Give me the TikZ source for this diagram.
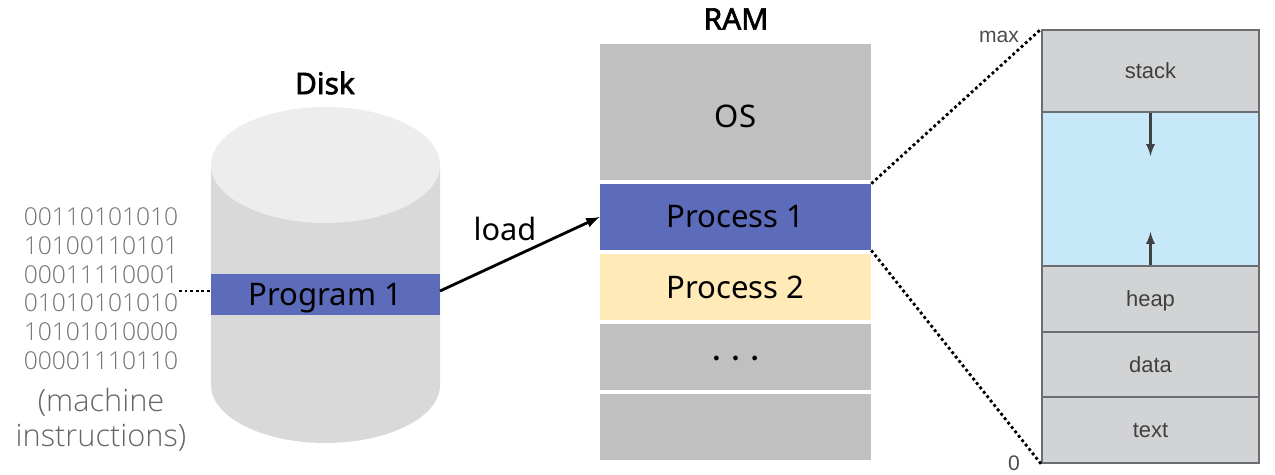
\documentclass[tikz,border=0pt]{standalone}
\usepackage{fontspec}
\setmainfont{Noto Sans}
\newfontfamily\titlefont[FakeBold=2]{Noto Sans}
\newfontfamily\stackfont{Liberation Sans}
\newfontfamily\bitsfont{Open Sans Light}
\definecolor{bandblue}{HTML}{5D6BBB}
\definecolor{ramgray}{HTML}{C0C0C0}
\definecolor{loadyellow}{HTML}{FFEAB8}
\definecolor{diskgray}{HTML}{D9D9D9}
\definecolor{disktop}{HTML}{EDEDED}
\definecolor{stackgray}{HTML}{D1D3D4}
\definecolor{freeblue}{HTML}{C7E8F9}
\definecolor{stackline}{HTML}{6B6D70}
\tikzset{
ramcell/.style={fill=#1, minimum width=5.42cm, minimum height=1.32cm, inner sep=0pt, text height=12.5pt, text depth=0pt, font=\fontsize{17.7}{20}\selectfont},
stackcell/.style={draw=stackline, line width=1.1pt, fill=#1, minimum width=4.34cm, inner sep=0pt, text height=9pt, text depth=0pt, font=\stackfont\fontsize{12.5}{15}\selectfont, text=black!75},
title/.style={font=\titlefont\fontsize{17}{20}\selectfont},
bits/.style={text=black!55, inner sep=0pt, font=\bitsfont\fontsize{14}{16}\selectfont},
words/.style={text=black!60, inner sep=0pt, font=\bitsfont\fontsize{17.5}{20}\selectfont},
dotline/.style={line width=1.6pt, dash pattern=on 1.6pt off 1.6pt},
}
\begin{document}
\begin{tikzpicture}[x=0.02cm, y=-0.02cm]
\useasboundingbox (0,0) rectangle (1275,475);
% disk
\fill[diskgray] (211,165) -- (211,385) arc[start angle=180, end angle=0, x radius=114.5, y radius=58] -- (440,165) -- cycle;
\fill[disktop] (325.5,165) ellipse[x radius=114.5, y radius=58];
\node[title] (disk) at (325,83) {Disk};
\node[ramcell=bandblue, minimum width=4.58cm, minimum height=0.82cm] (program) at (325.5,294.5) {Program 1};
% machine code
\node[bits] (bits1) at (101,217) {00110101010};
\node[bits] (bits2) at (101,246) {10100110101};
\node[bits] (bits3) at (101,275) {00011110001};
\node[bits] (bits4) at (101,303) {01010101010};
\node[bits] (bits5) at (101,332) {10101010000};
\node[bits] (bits6) at (101,361) {00001110110};
\node[words] (machine) at (101,402) {(machine};
\node[words] (instr) at (101,438) {instructions)};
\coordinate (bitsend) at (179,291);
\coordinate (bandleft) at (211,291);
\path[draw,dotline] (bitsend) -- (bandleft);
% ram
\node[title] (ram) at (736,19) {RAM};
\node[ramcell=ramgray, minimum height=2.72cm, text height=17.5pt] (os) at (735.5,112) {OS};
\node[ramcell=bandblue] (p1) at (735.5,217) {Process 1};
\node[ramcell=loadyellow, text height=13.6pt] (p2) at (735.5,287) {Process 2};
\node[ramcell=ramgray, text height=3pt] (dots) at (735.5,357) {\titlefont. . .};
\node[ramcell=ramgray] (last) at (735.5,427) {};
\coordinate (bandright) at (440,291);
\path[draw,line width=1.6pt,-latex] (bandright) -- (p1.west);
\node[font=\fontsize{17.5}{20}\selectfont, inner sep=0pt] (load) at (505,229) {load};
% stack
\node[stackcell=stackgray, minimum height=1.64cm] (stack) at (1150.5,71) {stack};
\node[stackcell=freeblue, minimum height=3.08cm] (free) at (1150.5,189) {};
\node[stackcell=stackgray, minimum height=1.32cm] (heap) at (1150.5,299) {heap};
\node[stackcell=stackgray, minimum height=1.30cm] (data) at (1150.5,364.5) {data};
\node[stackcell=stackgray, minimum height=1.32cm] (text) at (1150.5,430) {text};
\coordinate (stacktip) at (1150.5,156);
\coordinate (heaptip) at (1150.5,232);
\path[draw,stackline!60!black,line width=1.3pt,-latex] (stack.south) -- (stacktip);
\path[draw,stackline!60!black,line width=1.3pt,-latex] (heap.north) -- (heaptip);
\node[font=\stackfont\fontsize{12}{14}\selectfont, text=black!70, inner sep=0pt] (max) at (999,37) {max};
\node[font=\stackfont\fontsize{12}{14}\selectfont, text=black!70, inner sep=0pt] (zero) at (1014,463) {0};
\path[draw,dotline] (p1.north east) -- (stack.north west);
\path[draw,dotline] (p1.south east) -- (text.south west);
\end{tikzpicture}
\end{document}
